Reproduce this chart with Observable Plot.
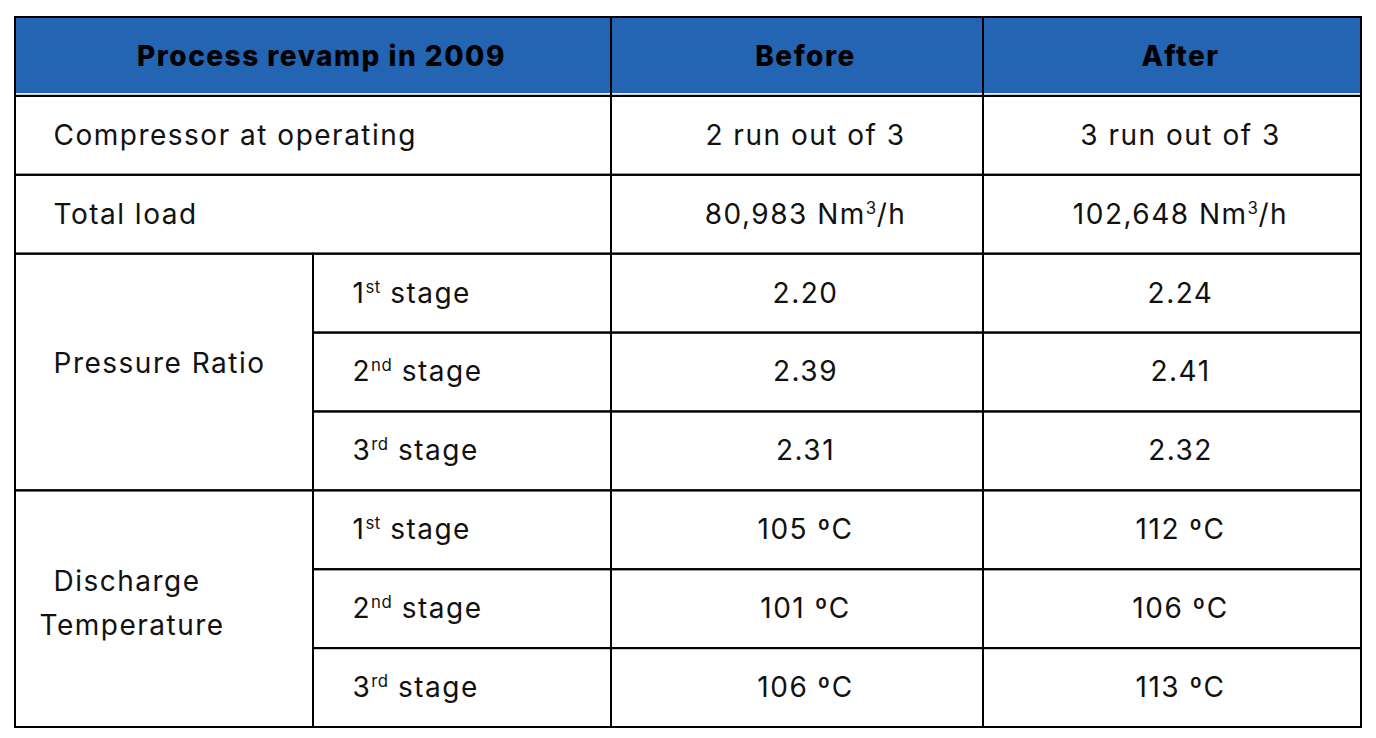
<!DOCTYPE html>
<html>
<head>
<meta charset="utf-8">
<script src="https://cdn.jsdelivr.net/npm/d3@7"></script>
<script src="https://cdn.jsdelivr.net/npm/@observablehq/plot@0.6"></script>
<style>
  html, body { margin: 0; padding: 0; background: #fff; }
  #chart svg { display: block; }
</style>
</head>
<body>
<div id="chart"></div>
<script>
// ---- data ----
const headers = ["Process revamp in 2009", "Before", "After"];
const groups = ["Compressor at operating", "Total load", "Pressure Ratio"];
const groupTwoLine = ["Discharge", "Temperature"];
const stages = ["1^st stage", "2^nd stage", "3^rd stage"];
const beforeValues = ["2 run out of 3", "80,983 Nm^3/h", "2.20", "2.39", "2.31", "105 ºC", "101 ºC", "106 ºC"];
const afterValues = ["3 run out of 3", "102,648 Nm^3/h", "2.24", "2.41", "2.32", "112 ºC", "106 ºC", "113 ºC"];

// ---- layout ----
const W = 1376, H = 738;
const colEdges = [0, 298, 596, 968, 1346]; // label, stage, before, after
const nRows = 9;
const blue = "#2364b3";
const fontFamily = "Inter, 'Open Sans', sans-serif";
const fs = 28;
const ls = "1.5px";

// cells: {c1,c2,r1,r2}
const cells = [];
cells.push({c1: 0, c2: 2, r1: 0, r2: 1});
cells.push({c1: 2, c2: 3, r1: 0, r2: 1});
cells.push({c1: 3, c2: 4, r1: 0, r2: 1});
for (let r = 1; r <= 2; r++) {
  cells.push({c1: 0, c2: 2, r1: r, r2: r + 1});
  cells.push({c1: 2, c2: 3, r1: r, r2: r + 1});
  cells.push({c1: 3, c2: 4, r1: r, r2: r + 1});
}
[3, 6].forEach(g => {
  cells.push({c1: 0, c2: 1, r1: g, r2: g + 3});
  for (let k = 0; k < 3; k++) {
    cells.push({c1: 1, c2: 2, r1: g + k, r2: g + k + 1});
    cells.push({c1: 2, c2: 3, r1: g + k, r2: g + k + 1});
    cells.push({c1: 3, c2: 4, r1: g + k, r2: g + k + 1});
  }
});

const headerTexts = [
  {text: headers[0], x: (colEdges[0] + colEdges[2]) / 2, y: 0.5},
  {text: headers[1], x: (colEdges[2] + colEdges[3]) / 2, y: 0.5},
  {text: headers[2], x: (colEdges[3] + colEdges[4]) / 2, y: 0.5}
];
const groupTexts = [
  {text: groups[0], y: 1.5},
  {text: groups[1], y: 2.5},
  {text: groups[2], y: 4.39}
];
const stageTexts = [];
[3, 6].forEach(g => stages.forEach((s, k) => stageTexts.push({text: s, y: g + k + 0.5})));
const valueTexts = [];
beforeValues.forEach((v, i) => valueTexts.push({text: v, x: (colEdges[2] + colEdges[3]) / 2, y: i + 1.5}));
afterValues.forEach((v, i) => valueTexts.push({text: v, x: (colEdges[3] + colEdges[4]) / 2, y: i + 1.5}));

const chart = Plot.plot({
  width: W,
  height: H,
  margin: 0,
  x: {type: "linear", domain: [0, colEdges[4]], range: [15, 1361], axis: null},
  y: {type: "linear", domain: [0, nRows], range: [17, 727], axis: null},
  style: {fontFamily, background: "#fff"},
  marks: [
    Plot.rect([{}], {x1: 0, x2: colEdges[4], y1: 0, y2: 0.965, fill: blue}),
    Plot.rect(cells, {x1: d => colEdges[d.c1], x2: d => colEdges[d.c2], y1: "r1", y2: "r2",
      fill: "none", stroke: "#000", strokeWidth: 2}),
    Plot.text(headerTexts, {x: "x", y: "y", text: "text", dx: 8, fontSize: fs, fontWeight: 800, fill: "#000"}),
    Plot.text(groupTexts, {x: colEdges[0], y: "y", text: "text", textAnchor: "start", dx: 38,
      fontSize: fs, fill: "#111"}),
    Plot.text([groupTwoLine[0]], {x: colEdges[0], y: 7.16, text: d => d, textAnchor: "start", dx: 38,
      fontSize: fs, fill: "#111"}),
    Plot.text([groupTwoLine[1]], {x: colEdges[0], y: 7.71, text: d => d, textAnchor: "start", dx: 24,
      fontSize: fs, fill: "#111"}),
    Plot.text(stageTexts, {x: colEdges[1], y: "y", text: "text", textAnchor: "start", dx: 39,
      fontSize: fs, fill: "#111"}),
    Plot.text(valueTexts, {x: "x", y: "y", text: "text", dx: 8, fontSize: fs, fill: "#111"})
  ]
});

// superscripts: "^xx" -> raised smaller tspan
d3.select(chart).selectAll("text").each(function () {
  const el = d3.select(this);
  const targets = el.selectAll("tspan").empty() ? [this] : el.selectAll("tspan").nodes();
  targets.forEach(node => {
    const t = node.textContent;
    if (!t.includes("^")) return;
    const parts = t.split(/\^(\w+)/);
    const n = d3.select(node);
    n.text(null);
    parts.forEach((p, i) => {
      if (!p) return;
      if (i % 2 === 1) {
        n.append("tspan").attr("dy", -10).attr("font-size", fs * 0.6).style("letter-spacing", "0.5px").text(p);
      } else {
        const ts = n.append("tspan").text(p);
        if (i > 0) ts.attr("dy", 10);
      }
    });
  });
});
d3.select(chart).selectAll("text").style("letter-spacing", ls);

document.getElementById("chart").appendChild(chart);
</script>
</body>
</html>
